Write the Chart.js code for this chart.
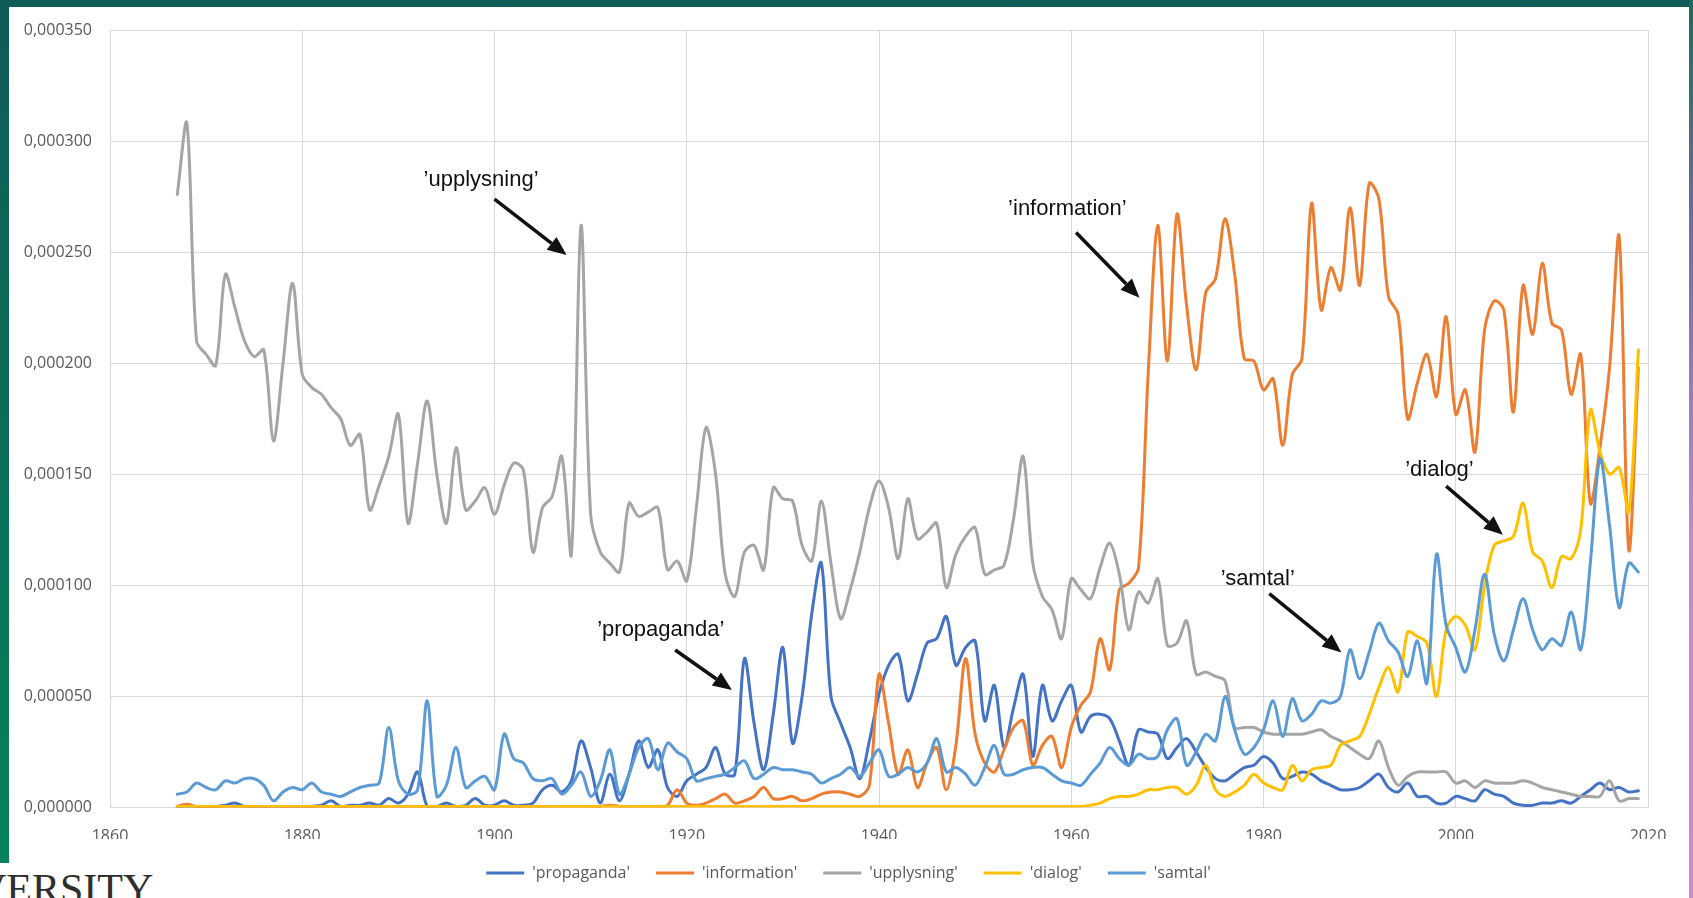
<!DOCTYPE html>
<html lang="sv">
<head>
<meta charset="utf-8">
<title>propaganda, information, upplysning, dialog, samtal</title>
<script src="https://cdn.jsdelivr.net/npm/chart.js@4.4.1/dist/chart.umd.min.js"></script>
<style>
    html, body {
        margin: 0;
        padding: 0;
        width: 1693px;
        height: 898px;
        overflow: hidden;
        background: linear-gradient(180deg, #0f5d56 0%, #0b6f5a 50%, #07845a 100%);
    }
    .panel {
        position: absolute;
        left: 9px;
        top: 7px;
        width: 1680px;
        height: 900px;
        background: #ffffff;
    }
    .edge-right {
        position: absolute;
        left: 1689px;
        top: 0;
        width: 4px;
        height: 898px;
        background: linear-gradient(180deg, #1d6a5e 0%, #6f6e9c 25%, #c08ac8 60%, #c98dcc 100%);
    }
    .logo-gap {
        position: absolute;
        left: 0;
        top: 863px;
        width: 9px;
        height: 40px;
        background: #ffffff;
    }
    .logo {
        position: absolute;
        left: -24px;
        top: 868px;
        font-family: "Liberation Serif", "DejaVu Serif", serif;
        font-size: 42px;
        line-height: 42px;
        color: #2e2e2e;
        white-space: nowrap;
    }
    .chart-box {
        position: absolute;
        left: 0;
        top: 0;
        width: 1693px;
        height: 891px;
    }
</style>
</head>
<body>

<div class="panel"></div>
<div class="edge-right"></div>
<div class="logo-gap"></div>
<div class="logo">VERSITY</div>

<div class="chart-box">
    <canvas id="wordChart"></canvas>
</div>

<script>
// ===============================
// DATA (relative frequency, in millionths)
// ===============================
const firstYear = 1867;
const lastYear = 2019;

const propaganda = [
    0.5, 0.5, 0.5,
    0.5, 0.5, 1, 2, 0.5, 0.5, 0.5, 0.5, 0.5, 0.5,
    0.5, 0.5, 1, 3, 0.5, 1, 1, 2, 1, 4,
    2, 6, 16, 0.5, 0.5, 2, 0.5, 1, 4, 1,
    1, 3, 1, 1, 2, 8, 10, 7, 12, 30,
    18, 2, 15, 3, 15, 30, 18, 26, 9, 5,
    12, 15, 18, 27, 15, 15, 67, 38, 17, 42,
    72, 29, 50, 87, 110, 50, 38, 27, 13, 30,
    51, 64, 69, 48, 60, 74, 76, 86, 64, 72,
    75, 39, 55, 27, 45, 60, 23, 55, 39, 48,
    55, 34, 41, 42, 40, 30, 19, 35, 34, 33,
    22, 27, 31, 25, 18, 13, 12, 15, 18, 19,
    23, 20, 13, 14, 16, 15, 12, 10, 8, 8,
    9, 12, 15, 9, 7, 11, 5, 5, 2, 2,
    5, 4, 3, 8, 6, 5, 2, 1, 1, 2,
    2, 3, 2, 5, 8, 11, 8, 9, 7, 7.5
];

const information = [
    0.5, 1.5, 0.5,
    0.5, 0.5, 0.5, 0.5, 0.5, 0.5, 0.5, 0.5, 0.5, 0.5,
    0.5, 0.5, 0.5, 0.5, 0.5, 0.5, 0.5, 0.5, 0.5, 0.5,
    0.5, 0.5, 0.5, 0.5, 0.5, 0.5, 0.5, 0.5, 0.5, 0.5,
    0.5, 0.5, 0.5, 0.5, 0.5, 0.5, 0.5, 0.5, 0.5, 0.5,
    0.5, 0.5, 1, 0.5, 0.5, 0.5, 0.5, 0.5, 1, 8,
    2, 1, 2, 4, 6, 2, 3, 5, 9, 4,
    4, 5, 3, 4, 6, 7, 7, 6, 5, 10,
    60, 38, 15, 26, 9, 20, 27, 8, 28, 67,
    33, 20, 16, 26, 36, 39, 19, 28, 32, 18,
    36, 46, 52, 76, 62, 98, 101, 108, 195, 262,
    201, 267, 226, 197, 232, 238, 265, 240, 202, 201,
    188, 193, 163, 195, 202, 272, 224, 243, 233, 270,
    235, 281, 274, 230, 222, 175, 191, 204, 185, 221,
    177, 188, 160, 215, 228, 224, 178, 235, 213, 245,
    218, 215, 186, 204, 137, 162, 198, 257, 116, 198
];

const upplysning = [
    276, 308, 210,
    204, 199, 240, 225, 210, 203, 206, 165, 200, 236,
    195, 189, 186, 180, 175, 163, 168, 134, 145, 158,
    177, 128, 155, 183, 150, 128, 162, 134, 138, 144,
    132, 145, 155, 152, 115, 135, 140, 158, 114, 262,
    132, 115, 110, 106, 137, 131, 133, 135, 107, 111,
    102, 135, 171, 150, 105, 95, 115, 118, 107, 144,
    139, 138, 118, 111, 138, 110, 85, 98, 115, 135,
    147, 135, 112, 139, 121, 124, 128, 99, 114, 122,
    126, 105, 107, 109, 130, 158, 110, 95, 89, 76,
    103, 98, 94, 108, 119, 105, 80, 97, 92, 103,
    73, 74, 84, 60, 61, 59, 57, 36, 36, 36,
    34, 33, 33, 33, 33, 34, 35, 32, 30, 27,
    24, 22, 30, 18, 10, 14, 16, 16, 16, 16,
    11, 12, 9, 12, 11, 11, 11, 12, 11, 9,
    8, 7, 6, 5, 5, 5, 12, 3, 4, 4
];

const dialog = [
    0.5, 0.5, 0.5,
    0.5, 0.5, 0.5, 0.5, 0.5, 0.5, 0.5, 0.5, 0.5, 0.5,
    0.5, 0.5, 0.5, 0.5, 0.5, 0.5, 0.5, 0.5, 0.5, 0.5,
    0.5, 0.5, 0.5, 0.5, 0.5, 0.5, 0.5, 0.5, 0.5, 0.5,
    0.5, 0.5, 0.5, 0.5, 0.5, 0.5, 0.5, 0.5, 0.5, 0.5,
    0.5, 0.5, 0.5, 0.5, 0.5, 0.5, 0.5, 0.5, 0.5, 0.5,
    0.5, 0.5, 0.5, 0.5, 0.5, 0.5, 0.5, 0.5, 0.5, 0.5,
    0.5, 0.5, 0.5, 0.5, 0.5, 0.5, 0.5, 0.5, 0.5, 0.5,
    0.5, 0.5, 0.5, 0.5, 0.5, 0.5, 0.5, 0.5, 0.5, 0.5,
    0.5, 0.5, 0.5, 0.5, 0.5, 0.5, 0.5, 0.5, 0.5, 0.5,
    0.5, 0.5, 1, 2, 4, 5, 5, 6, 8, 8,
    9, 9, 6, 10, 19, 8, 5, 7, 10, 15,
    11, 9, 8, 19, 12, 17, 18, 19, 28, 30,
    32, 42, 54, 63, 52, 79, 77, 74, 50, 80,
    86, 82, 71, 100, 118, 120, 122, 137, 115, 111,
    99, 113, 112, 125, 179, 160, 150, 153, 133, 206
];

const samtal = [
    6, 7, 11,
    9, 8, 12, 11, 13, 13, 10, 3, 7, 9,
    8, 11, 7, 6, 5, 7, 9, 10, 11, 36,
    12, 6, 8, 48, 5, 10, 27, 9, 12, 14,
    8, 33, 22, 20, 13, 12, 13, 6, 10, 16,
    5, 12, 26, 6, 15, 27, 31, 17, 29, 25,
    22, 12, 13, 14, 15, 18, 21, 13, 15, 18,
    17, 17, 16, 15, 11, 13, 15, 18, 14, 20,
    26, 14, 15, 18, 16, 20, 31, 16, 18, 15,
    10, 18, 28, 15, 15, 17, 18, 18, 15, 12,
    11, 10, 15, 20, 27, 22, 19, 24, 22, 23,
    35, 40, 19, 25, 33, 30, 50, 35, 24, 27,
    35, 48, 32, 49, 39, 42, 48, 47, 50, 71,
    58, 70, 83, 75, 70, 59, 75, 56, 114, 82,
    72, 61, 80, 105, 78, 66, 80, 94, 80, 71,
    76, 73, 88, 71, 110, 157, 127, 90, 110, 106
];

const seriesNames = ["'propaganda'", "'information'", "'upplysning'", "'dialog'", "'samtal'"];
const seriesValues = [propaganda, information, upplysning, dialog, samtal];
const seriesColors = ["#4472c4", "#ed7d31", "#a5a5a5", "#ffc000", "#5b9bd5"];

const xTicks = [1860, 1880, 1900, 1920, 1940, 1960, 1980, 2000, 2020];
const yMax = 0.00035;
const yStep = 0.00005;

// callouts: label anchor and arrow, in [year, millionths]
const callouts = [
    { text: "\u2019upplysning\u2019",  at: [1898.6, 281.6], from: [1900.0, 273.9], to: [1907.5, 248.7] },
    { text: "\u2019information\u2019", at: [1959.6, 268.5], from: [1960.5, 258.8], to: [1967.1, 229.5] },
    { text: "\u2019propaganda\u2019",  at: [1917.3, 79.1],  from: [1918.8, 70.9],  to: [1924.7, 52.9] },
    { text: "\u2019samtal\u2019",      at: [1979.4, 102.1], from: [1980.6, 96.3],  to: [1988.1, 69.8] },
    { text: "\u2019dialog\u2019",      at: [1998.3, 151.0], from: [1999.0, 144.7], to: [2004.9, 122.8] }
];


// ===============================
// HELPERS
// ===============================
function toPoints(values) {
    return values.map((v, i) => ({ x: firstYear + i, y: v * 1e-6 }));
}

function drawArrow(ctx, x1, y1, x2, y2) {
    const angle = Math.atan2(y2 - y1, x2 - x1);
    const headLen = 19;
    const headHalf = 8;
    const bx = x2 - headLen * Math.cos(angle);
    const by = y2 - headLen * Math.sin(angle);

    ctx.lineWidth = 3.5;
    ctx.beginPath();
    ctx.moveTo(x1, y1);
    ctx.lineTo(bx, by);
    ctx.stroke();

    ctx.beginPath();
    ctx.moveTo(x2, y2);
    ctx.lineTo(bx + headHalf * Math.sin(angle), by - headHalf * Math.cos(angle));
    ctx.lineTo(bx - headHalf * Math.sin(angle), by + headHalf * Math.cos(angle));
    ctx.closePath();
    ctx.fill();
}

// labels with arrows pointing at each curve
const calloutPlugin = {
    id: "callouts",
    afterDatasetsDraw(chart) {
        const { ctx, scales } = chart;
        const xs = scales.x;
        const ys = scales.y;

        ctx.save();
        ctx.font = '22px "Liberation Sans", Arial, sans-serif';
        ctx.fillStyle = "#111111";
        ctx.strokeStyle = "#111111";
        ctx.textAlign = "center";
        ctx.textBaseline = "middle";

        callouts.forEach(c => {
            ctx.fillText(
                c.text,
                xs.getPixelForValue(c.at[0]),
                ys.getPixelForValue(c.at[1] * 1e-6) - 2
            );
            drawArrow(
                ctx,
                xs.getPixelForValue(c.from[0]), ys.getPixelForValue(c.from[1] * 1e-6),
                xs.getPixelForValue(c.to[0]), ys.getPixelForValue(c.to[1] * 1e-6)
            );
        });

        ctx.restore();
    }
};

// the legend row is centred a bit right of the canvas middle
const legendShiftPlugin = {
    id: "legendShift",
    afterLayout(chart) {
        if (chart.legend) {
            chart.legend.left += 49;
        }
    }
};


// ===============================
// CHART
// ===============================
const tickFont = { family: "'Open Sans', sans-serif", size: 16 };
const tickColor = "#595959";
const gridColor = "#d9d9d9";

const datasets = seriesNames.map((name, i) => ({
    label: name,
    data: toPoints(seriesValues[i]),
    borderColor: seriesColors[i],
    backgroundColor: seriesColors[i],
    borderWidth: 3,
    pointRadius: 0,
    fill: false,
    tension: 0.33,
    order: seriesNames.length - i      // later series drawn on top
}));

const ctx = document.getElementById("wordChart").getContext("2d");

new Chart(ctx, {
    type: "line",
    data: { datasets: datasets },
    options: {
        responsive: true,
        maintainAspectRatio: false,
        animation: false,
        devicePixelRatio: 1,
        layout: {
            padding: { left: 0, right: 45, top: 30, bottom: 0 }
        },
        elements: {
            line: { borderCapStyle: "round", borderJoinStyle: "round" }
        },
        scales: {
            x: {
                type: "linear",
                min: xTicks[0],
                max: xTicks[xTicks.length - 1],
                afterBuildTicks: scale => {
                    scale.ticks = xTicks.map(v => ({ value: v }));
                },
                afterFit: scale => {
                    scale.height = 31.5;
                },
                ticks: {
                    callback: v => String(v),
                    color: tickColor,
                    font: tickFont,
                    padding: 19,
                    maxRotation: 0
                },
                grid: { color: gridColor, drawTicks: false },
                border: { color: gridColor }
            },
            y: {
                min: 0,
                max: yMax,
                afterFit: scale => {
                    scale.width = 110;
                },
                ticks: {
                    stepSize: yStep,
                    callback: v => v.toFixed(6).replace(".", ","),
                    color: tickColor,
                    font: tickFont,
                    padding: 18
                },
                grid: { color: gridColor, drawTicks: false },
                border: { color: gridColor }
            }
        },
        plugins: {
            legend: {
                position: "bottom",
                labels: {
                    boxWidth: 38,
                    boxHeight: 3,
                    padding: 26,
                    color: tickColor,
                    font: tickFont,
                    sort: (a, b) => a.datasetIndex - b.datasetIndex,
                    generateLabels: chart => {
                        const items = Chart.defaults.plugins.legend.labels.generateLabels(chart);
                        return items.map(item => {
                            item.fillStyle = item.strokeStyle;
                            item.lineWidth = 0;
                            return item;
                        });
                    }
                }
            },
            tooltip: { enabled: false }
        }
    },
    plugins: [calloutPlugin, legendShiftPlugin]
});
</script>
</body>
</html>
